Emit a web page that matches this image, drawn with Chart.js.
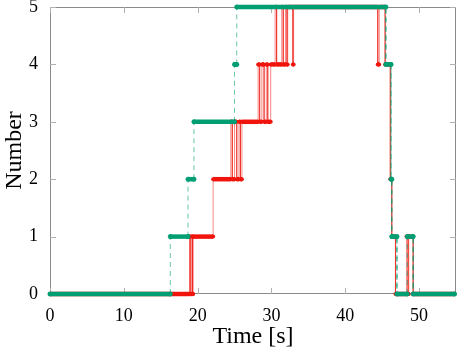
<!DOCTYPE html>
<html>
<head>
<meta charset="utf-8">
<script src="https://cdn.jsdelivr.net/npm/chart.js@4.4.1/dist/chart.umd.min.js"></script>
<style>
  html, body { margin: 0; padding: 0; background: #fff; }
</style>
</head>
<body>
<canvas id="chart" width="457" height="350"></canvas>
<script>
// level changes: time [s] -> new number
const greenTimes  = [16.3, 18.7, 19.5, 25.0, 25.3, 45.5, 46.2, 46.3, 47.0, 48.4, 49.2];
const greenLevels = [1,    2,    3,    4,    5,    4,    2,    1,    0,    1,    0];

const redTimes  = [18.9, 19.0, 19.2, 19.3, 19.4, 22.1,
                   24.5, 24.7, 25.0, 25.3, 25.6, 25.8, 26.0,
                   28.2, 28.4, 28.7, 29.0, 29.3, 29.5, 29.9,
                   30.5, 30.7, 31.4, 31.6, 31.9, 32.1, 32.2, 32.9, 33.0,
                   44.4, 44.6, 45.4, 46.1, 46.3, 46.8, 48.3, 48.5, 48.6, 49.2];
const redLevels = [1, 0, 1, 0, 1, 2,
                   3, 2, 3, 2, 3, 2, 3,
                   4, 3, 4, 3, 4, 3, 4,
                   5, 4, 5, 4, 5, 4, 5, 4, 5,
                   4, 5, 4, 2, 1, 0, 1, 0, 1, 0];

const startTime = 0;
const endTime = 54.8;
const xTicks = [0, 10, 20, 30, 40, 50];
const yTicks = [0, 1, 2, 3, 4, 5];

const GREEN = '#009e73';
const RED = '#f0140c';

// turn the change lists into explicit step corners
const toSteps = (times, levels) => {
    const pts = [{ x: startTime, y: 0 }];
    let cur = 0;
    times.forEach((t, i) => {
        pts.push({ x: t, y: cur });
        cur = levels[i];
        pts.push({ x: t, y: cur });
    });
    pts.push({ x: endTime, y: cur });
    return pts;
};

const flat = ctx => Math.abs(ctx.p0.y - ctx.p1.y) < 0.5;

// gnuplot-like box with inward ticks on all four sides
const framePlugin = {
    id: 'frame',
    beforeDatasetsDraw(chart) {
        const { ctx, chartArea: a, scales: { x, y } } = chart;
        ctx.save();
        ctx.strokeStyle = '#8a8a8a';
        ctx.lineWidth = 1;
        ctx.strokeRect(a.left + 0.5, a.top + 0.5, a.right - a.left - 1, a.bottom - a.top - 1);
        ctx.strokeStyle = '#b0b0b0';
        ctx.beginPath();
        xTicks.forEach(v => {
            const px = Math.round(x.getPixelForValue(v)) + 0.5;
            ctx.moveTo(px, a.bottom); ctx.lineTo(px, a.bottom - 6);
            ctx.moveTo(px, a.top); ctx.lineTo(px, a.top + 6);
        });
        yTicks.forEach(v => {
            const py = Math.round(y.getPixelForValue(v)) + 0.5;
            ctx.moveTo(a.left, py); ctx.lineTo(a.left + 6, py);
            ctx.moveTo(a.right, py); ctx.lineTo(a.right - 6, py);
        });
        ctx.stroke();
        ctx.restore();
    }
};

const serif = '"Liberation Serif", "DejaVu Serif", serif';

new Chart(document.getElementById('chart'), {
    type: 'line',
    data: {
        datasets: [
            {
                label: 'green',
                data: toSteps(greenTimes, greenLevels),
                borderColor: GREEN,
                borderWidth: 4.5,
                pointStyle: 'star',
                pointRadius: 2.5,
                pointBorderColor: GREEN,
                pointBorderWidth: 1.5,
                tension: 0,
                clip: false,
                segment: {
                    borderWidth: ctx => flat(ctx) ? 4.5 : 1,
                    borderColor: ctx => flat(ctx) ? GREEN : 'rgba(0,158,115,0.6)',
                    borderDash: ctx => flat(ctx) ? [] : [5, 4]
                }
            },
            {
                label: 'red',
                data: toSteps(redTimes, redLevels),
                borderColor: RED,
                borderWidth: 4.5,
                pointStyle: 'circle',
                pointRadius: 2,
                pointBackgroundColor: RED,
                pointBorderWidth: 0,
                tension: 0,
                clip: false,
                segment: {
                    borderWidth: ctx => flat(ctx) ? 4.5 : 1,
                    borderColor: ctx => flat(ctx) ? RED : 'rgba(240,20,12,0.5)'
                }
            }
        ]
    },
    options: {
        responsive: false,
        animation: false,
        events: [],
        layout: { autoPadding: false, padding: { top: 0, right: 1, left: 0, bottom: 0 } },
        plugins: {
            legend: { display: false },
            tooltip: { enabled: false }
        },
        scales: {
            x: {
                type: 'linear',
                min: 0,
                max: 55,
                afterFit: s => { s.height = 56; s.paddingLeft = 0; s.paddingRight = 0; },
                grid: { display: false, drawTicks: false },
                border: { display: false },
                ticks: {
                    stepSize: 10,
                    includeBounds: false,
                    padding: 11,
                    color: '#000',
                    maxRotation: 0,
                    font: { family: serif, size: 18 }
                },
                title: {
                    display: true,
                    text: 'Time [s]',
                    color: '#000',
                    padding: { top: 1, bottom: 1 },
                    font: { family: serif, size: 24, lineHeight: 1 }
                }
            },
            y: {
                min: 0,
                max: 5,
                afterFit: s => { s.width = 50; s.paddingTop = 7; s.paddingBottom = 0; },
                grid: { display: false, drawTicks: false },
                border: { display: false },
                ticks: {
                    stepSize: 1,
                    padding: 12,
                    color: '#000',
                    font: { family: serif, size: 18 }
                },
                title: {
                    display: true,
                    text: 'Number',
                    color: '#000',
                    padding: { top: 0, bottom: 0 },
                    font: { family: serif, size: 24 }
                }
            }
        }
    },
    plugins: [framePlugin]
});
</script>
</body>
</html>
